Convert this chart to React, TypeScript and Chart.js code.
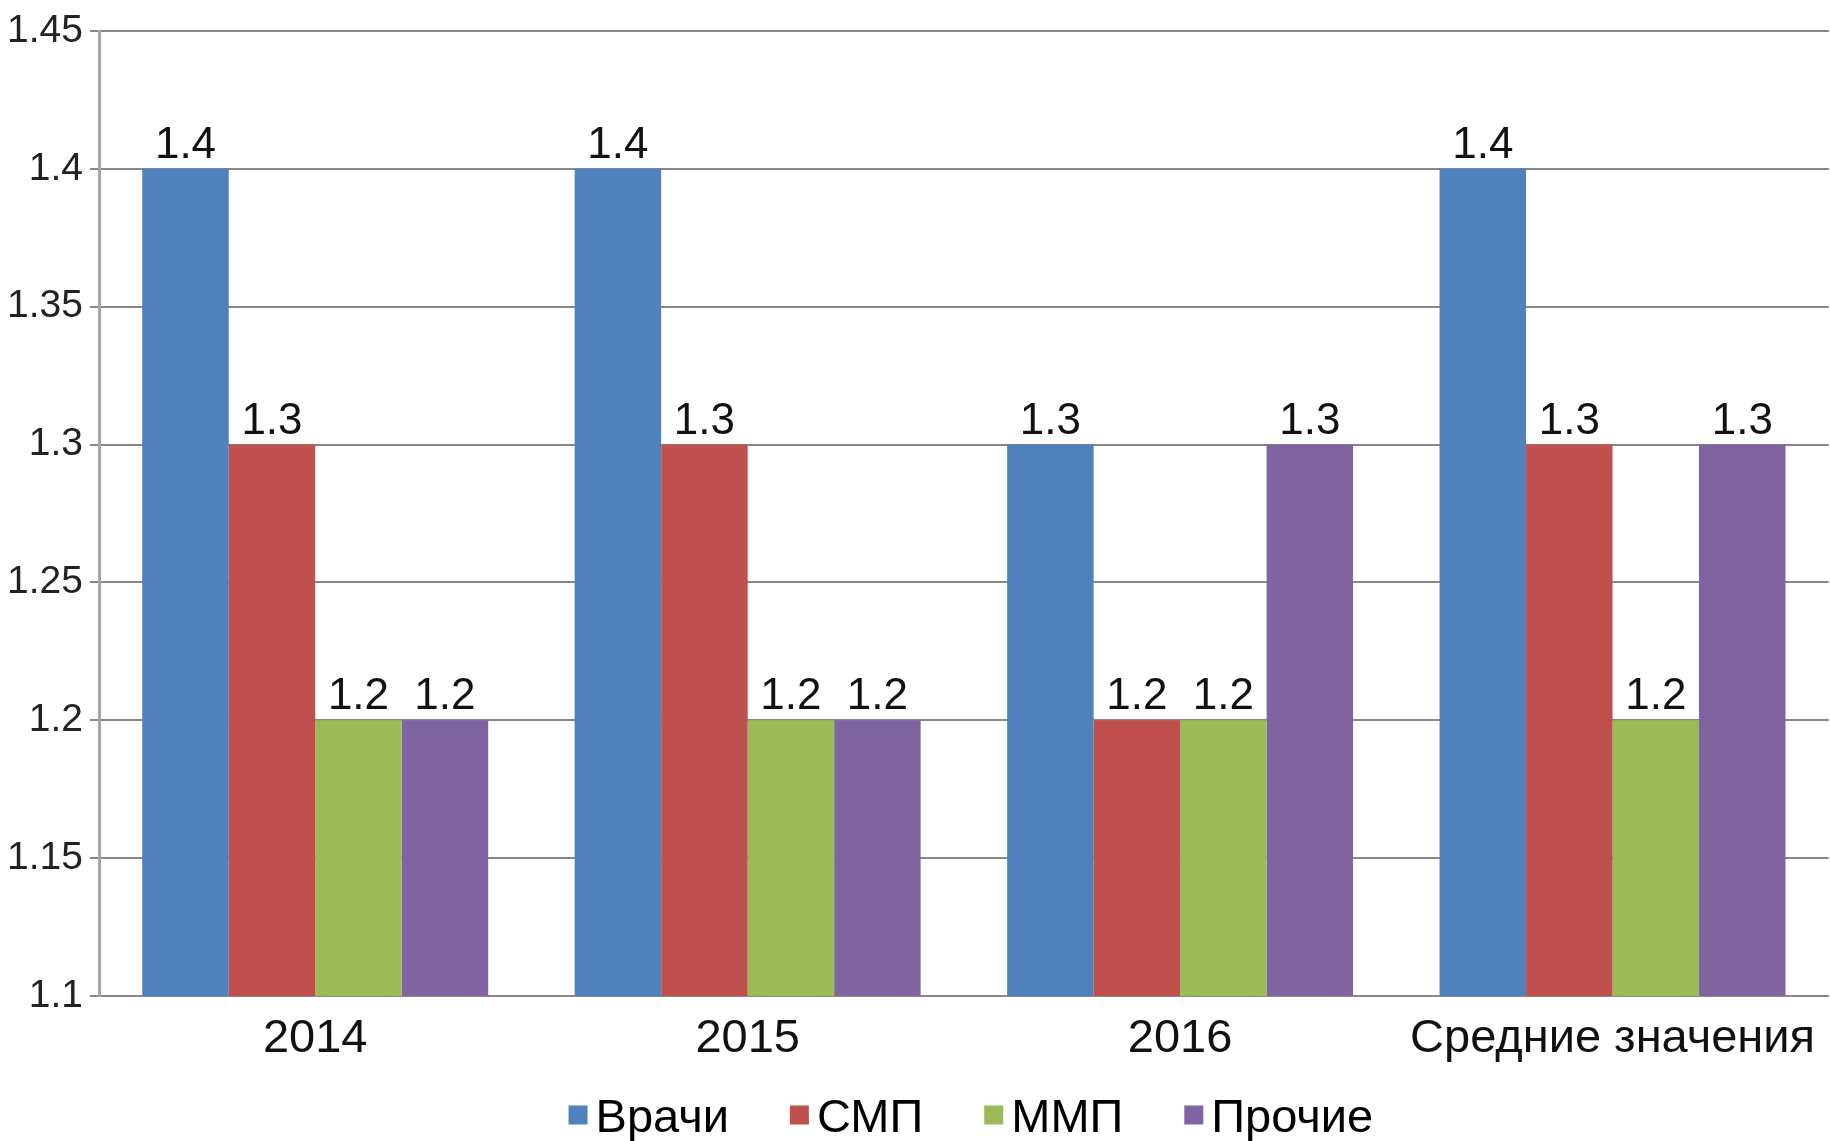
import React, { useEffect, useRef } from "react";
import { Chart, registerables } from "chart.js";

Chart.register(...registerables);

const categories = ["2014", "2015", "2016", "Средние значения"];
const seriesNames = ["Врачи", "СМП", "ММП", "Прочие"];
const vrachi = [1.4, 1.4, 1.3, 1.4];
const smp = [1.3, 1.3, 1.2, 1.3];
const mmp = [1.2, 1.2, 1.2, 1.2];
const prochie = [1.2, 1.2, 1.3, 1.3];
const seriesColors = ["#4F81BD", "#C0504D", "#9BBB59", "#8064A2"];
const yMin = 1.1;
const yMax = 1.45;
const yStep = 0.05;

const FONT = "'Liberation Sans', Arial, sans-serif";

const valueLabelPlugin = {
  id: "valueLabels",
  afterDatasetsDraw(chart: any) {
    const ctx = chart.ctx;
    ctx.save();
    ctx.font = `44px ${FONT}`;
    ctx.fillStyle = "#111";
    ctx.textAlign = "center";
    ctx.textBaseline = "alphabetic";
    chart.data.datasets.forEach((ds: any, i: number) => {
      const meta = chart.getDatasetMeta(i);
      meta.data.forEach((bar: any, j: number) => {
        const v = ds.data[j];
        ctx.fillText(String(v), bar.x, bar.y - 11);
      });
    });
    ctx.restore();
  },
};

const legendPlugin = {
  id: "customLegend",
  afterDraw(chart: any) {
    const ctx = chart.ctx;
    const box = 19;
    const gap = 8;
    const spacing = 61;
    const cy = 1117;
    ctx.save();
    ctx.font = `47px ${FONT}`;
    ctx.textBaseline = "middle";
    ctx.textAlign = "left";
    const items = chart.data.datasets.map((ds: any) => ({
      text: ds.label,
      color: ds.backgroundColor,
      w: ctx.measureText(ds.label).width,
    }));
    const total =
      items.reduce((s: number, it: any) => s + box + gap + it.w, 0) +
      spacing * (items.length - 1);
    const center = (chart.chartArea.left + chart.chartArea.right) / 2 + 7;
    let x = center - total / 2;
    items.forEach((it: any) => {
      ctx.fillStyle = it.color;
      ctx.fillRect(x, cy - box / 2 - 2, box, box);
      ctx.fillStyle = "#000";
      ctx.fillText(it.text, x + box + gap, cy + 2);
      x += box + gap + it.w + spacing;
    });
    ctx.restore();
  },
};

export default function App() {
  const ref = useRef<HTMLCanvasElement | null>(null);

  useEffect(() => {
    document.body.style.margin = "0";
    const seriesData = [vrachi, smp, mmp, prochie];
    const chart = new Chart(ref.current as HTMLCanvasElement, {
      type: "bar",
      data: {
        labels: categories,
        datasets: seriesNames.map((name, i) => ({
          label: name,
          data: seriesData[i],
          backgroundColor: seriesColors[i],
          borderWidth: 0,
          categoryPercentage: 0.8,
          barPercentage: 1.0,
        })),
      },
      options: {
        responsive: false,
        animation: false,
        layout: { padding: { top: 31, right: 0, left: 0, bottom: 70 } },
        plugins: {
          legend: { display: false },
          tooltip: { enabled: false },
        },
        scales: {
          x: {
            grid: { display: false, drawTicks: false, tickLength: 0 },
            border: { display: true, color: "#8a8a8a", width: 2 },
            ticks: {
              font: { family: FONT, size: 47 },
              color: "#111",
              padding: 15,
              maxRotation: 0,
              autoSkip: false,
            },
            afterFit(scale: any) {
              scale.height = 75;
            },
          },
          y: {
            min: yMin,
            max: yMax,
            grid: {
              color: "#868686",
              lineWidth: 2,
              drawTicks: true,
              tickLength: 9,
            },
            border: { display: true, color: "#a6a6a6", width: 3 },
            ticks: {
              stepSize: yStep,
              font: { family: FONT, size: 39 },
              color: "#222",
              padding: 7,
              callback: (v: any) => String(parseFloat(Number(v).toFixed(2))),
            },
            afterFit(scale: any) {
              scale.width = 99;
            },
          },
        },
      },
      plugins: [valueLabelPlugin, legendPlugin],
    });
    return () => chart.destroy();
  }, []);

  return (
    <div style={{ width: 1830, height: 1141, background: "#fff" }}>
      <canvas ref={ref} width={1830} height={1141} style={{ display: "block" }} />
    </div>
  );
}
